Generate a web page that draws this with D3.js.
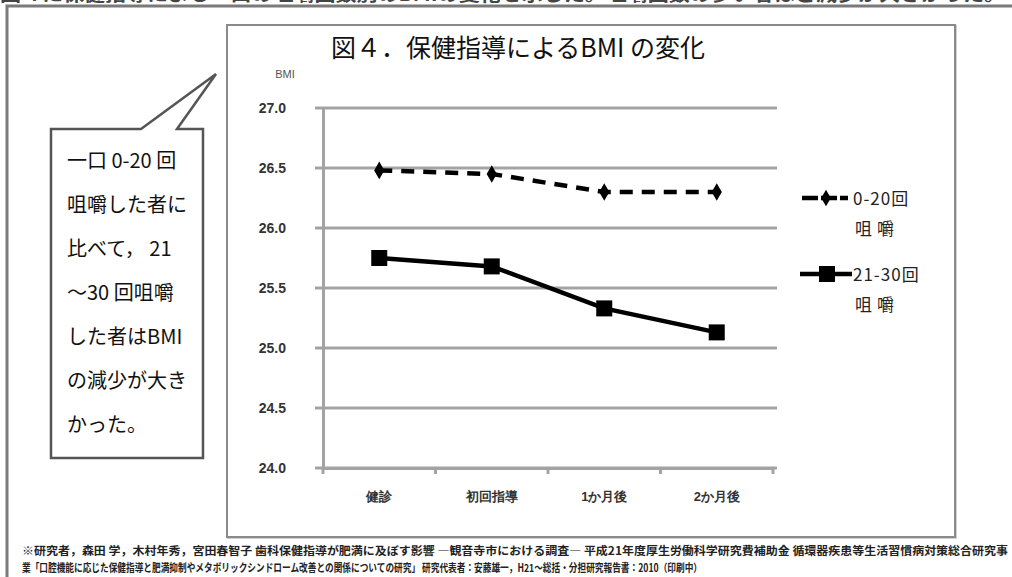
<!DOCTYPE html>
<html>
<head>
<meta charset="utf-8">
<script src="https://cdn.jsdelivr.net/npm/d3@7"></script>
<style>
  html, body { margin: 0; padding: 0; background: #fff; }
  svg { display: block; font-family: "Noto Sans CJK JP", "Noto Sans", sans-serif; }
</style>
</head>
<body>
<svg id="chart" width="1012" height="577"></svg>
<script>
// BMI by number of chews per mouthful, across the guidance period
const categories = ["健診", "初回指導", "1か月後", "2か月後"];
const seriesNames = [["0-20回", "咀嚼"], ["21-30回", "咀嚼"]];
const chew0to20 = [26.48, 26.45, 26.30, 26.30];
const chew21to30 = [25.75, 25.68, 25.33, 25.13];
const yTicks = [24.0, 24.5, 25.0, 25.5, 26.0, 26.5, 27.0];
const titleText = "図４．保健指導によるBMI の変化";
const yAxisTitle = "BMI";
const calloutLines = ["一口 0-20 回", "咀嚼した者に", "比べて，  21", "～30 回咀嚼", "した者はBMI", "の減少が大き", "かった。"];
const headerText = "図４に保健指導による一口の咀嚼回数別のBMIの変化を示した。咀嚼回数の多い者ほど減少が大きかった。";
const sourceLines = [
  "※研究者，森田 学，木村年秀，宮田春智子  歯科保健指導が肥満に及ぼす影響  ―観音寺市における調査―  平成21年度厚生労働科学研究費補助金  循環器疾患等生活習慣病対策総合研究事",
  "業「口腔機能に応じた保健指導と肥満抑制やメタボリックシンドローム改善との関係についての研究」 研究代表者：安藤雄一，H21～総括・分担研究報告書：2010（印刷中）"
];

const svg = d3.select("#chart");

// line of text running off the very top edge
svg.append("text")
  .attr("x", 0).attr("y", 1)
  .attr("font-size", 18).attr("font-weight", "bold").attr("fill", "#444")
  .attr("textLength", 1005).attr("lengthAdjust", "spacingAndGlyphs")
  .text(headerText);

// outer frame (top and left edges)
svg.append("path")
  .attr("d", "M7,577 L7,6 L1012,6")
  .attr("fill", "none").attr("stroke", "#7a7a7a").attr("stroke-width", 3);

// chart box
svg.append("rect")
  .attr("x", 228).attr("y", 26).attr("width", 728).attr("height", 512)
  .attr("fill", "none").attr("stroke", "#d0d0d0").attr("stroke-width", 2);
svg.append("rect")
  .attr("x", 227).attr("y", 25).attr("width", 728).attr("height", 512)
  .attr("fill", "#fff").attr("stroke", "#8a8a8a").attr("stroke-width", 2);

// title
svg.append("text")
  .attr("x", 518).attr("y", 57)
  .attr("text-anchor", "middle")
  .attr("font-size", 25).attr("fill", "#111")
  .text(titleText);

// scales
const plot = { left: 323, right: 773, top: 108, bottom: 468 };
const x = d3.scaleBand().domain(categories).range([plot.left, plot.right]);
const y = d3.scaleLinear().domain([24, 27]).range([plot.bottom, plot.top]);

// horizontal gridlines
svg.append("g")
  .selectAll("line")
  .data(yTicks)
  .join("line")
  .attr("x1", plot.left - 8).attr("x2", plot.right + 4)
  .attr("y1", d => y(d)).attr("y2", d => y(d))
  .attr("stroke", "#a3a3a3").attr("stroke-width", 3);

// y axis
const yAxis = svg.append("g")
  .attr("transform", `translate(${plot.left},0)`)
  .call(d3.axisLeft(y).tickValues(yTicks).tickFormat(d3.format(".1f")).tickSize(0).tickPadding(38));
yAxis.select(".domain").attr("stroke", "#a3a3a3").attr("stroke-width", 3);
yAxis.selectAll("text")
  .attr("x", -37)
  .attr("font-size", 14).attr("font-weight", "bold").attr("fill", "#333")
  .attr("font-family", "'Liberation Sans', sans-serif");

// x axis
const xAxis = svg.append("g")
  .attr("transform", `translate(0,${plot.bottom})`)
  .call(d3.axisBottom(x).tickSize(0).tickPadding(24));
xAxis.select(".domain").attr("stroke", "#a3a3a3").attr("stroke-width", 3);
xAxis.selectAll("text")
  .attr("font-size", 13).attr("font-weight", "bold").attr("fill", "#333");
// ticks at band boundaries
svg.append("g")
  .selectAll("line")
  .data(categories.concat([null]))
  .join("line")
  .attr("x1", (d, i) => plot.left + i * x.step())
  .attr("x2", (d, i) => plot.left + i * x.step())
  .attr("y1", plot.bottom).attr("y2", plot.bottom + 6)
  .attr("stroke", "#a3a3a3").attr("stroke-width", 3);

// y-axis title
svg.append("text")
  .attr("x", 285).attr("y", 78).attr("text-anchor", "middle")
  .attr("font-size", 11).attr("fill", "#555")
  .attr("font-family", "'Liberation Sans', sans-serif")
  .text(yAxisTitle);

const cx = d => x(d) + x.bandwidth() / 2;
const line = d3.line().x(d => cx(d.c)).y(d => y(d.v));

const s1 = categories.map((c, i) => ({ c, v: chew0to20[i] }));
const s2 = categories.map((c, i) => ({ c, v: chew21to30[i] }));

// dashed series with diamond markers
svg.append("path")
  .datum(s1)
  .attr("d", line)
  .attr("fill", "none").attr("stroke", "#000").attr("stroke-width", 4.5)
  .attr("stroke-dasharray", "13,9");
svg.append("g").selectAll("path")
  .data(s1).join("path")
  .attr("transform", d => `translate(${cx(d.c)},${y(d.v)})`)
  .attr("d", d3.symbol(d3.symbolDiamond, 90))
  .attr("fill", "#000");

// solid series with square markers
svg.append("path")
  .datum(s2)
  .attr("d", line)
  .attr("fill", "none").attr("stroke", "#000").attr("stroke-width", 4.5);
svg.append("g").selectAll("rect")
  .data(s2).join("rect")
  .attr("x", d => cx(d.c) - 8).attr("y", d => y(d.v) - 8)
  .attr("width", 16).attr("height", 16)
  .attr("fill", "#000");

// legend
const legend = svg.append("g");
const legY = [198, 274];
legend.append("line")
  .attr("x1", 802).attr("x2", 848).attr("y1", legY[0]).attr("y2", legY[0])
  .attr("stroke", "#000").attr("stroke-width", 4.5).attr("stroke-dasharray", "16,3");
legend.append("path")
  .attr("transform", `translate(826,${legY[0]})`)
  .attr("d", d3.symbol(d3.symbolDiamond, 80)).attr("fill", "#000");
legend.append("line")
  .attr("x1", 800).attr("x2", 852).attr("y1", legY[1]).attr("y2", legY[1])
  .attr("stroke", "#000").attr("stroke-width", 4.5);
legend.append("rect")
  .attr("x", 819).attr("y", legY[1] - 8).attr("width", 16).attr("height", 16).attr("fill", "#000");
seriesNames.forEach((name, i) => {
  const t = legend.append("text")
    .attr("font-size", 17).attr("fill", "#222");
  t.append("tspan").attr("x", 853).attr("y", legY[i] + 7).attr("letter-spacing", 1).text(name[0]);
  t.append("tspan").attr("x", 855).attr("y", legY[i] + 37).attr("letter-spacing", 5).text(name[1]);
});

// callout box pointing at the chart
svg.append("path")
  .attr("d", "M51,129 L141,129 L216,74 L177,129 L203,129 L203,458 L51,458 Z")
  .attr("fill", "#fff").attr("stroke", "#555").attr("stroke-width", 2.5)
  .attr("stroke-linejoin", "miter");
svg.append("g").selectAll("text")
  .data(calloutLines).join("text")
  .attr("x", 67).attr("y", (d, i) => 168 + i * 44)
  .attr("font-size", 20).attr("fill", "#111")
  .attr("letter-spacing", 0)
  .text(d => d);

// source note
svg.append("g").selectAll("text")
  .data(sourceLines).join("text")
  .attr("x", 22).attr("y", (d, i) => 555 + i * 17)
  .attr("font-size", 11).attr("font-weight", "bold").attr("fill", "#222")
  .attr("textLength", (d, i) => i === 0 ? 986 : 680)
  .attr("lengthAdjust", "spacingAndGlyphs")
  .text(d => d);
</script>
</body>
</html>
